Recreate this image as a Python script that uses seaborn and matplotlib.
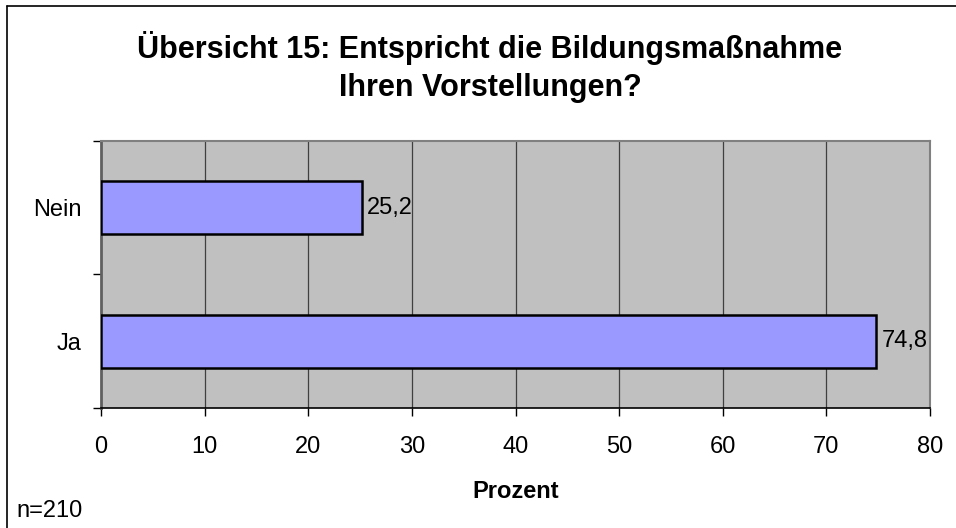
import matplotlib
matplotlib.use("Agg")
import matplotlib.pyplot as plt
import seaborn as sns
import pandas as pd
from matplotlib.lines import Line2D

categories = ["Nein", "Ja"]
values = [25.2, 74.8]
value_labels = ["25,2", "74,8"]
x_ticks = [0, 10, 20, 30, 40, 50, 60, 70, 80]

sns.set_style("white", rc={"text.color": "black", "axes.labelcolor": "black",
                           "xtick.color": "black", "ytick.color": "black",
                           "xtick.bottom": True, "ytick.left": True})
plt.rcParams['font.family'] = ['Liberation Sans', 'DejaVu Sans']

df = pd.DataFrame({"cat": categories, "val": values})

fig = plt.figure(figsize=(9.56, 5.28), dpi=100)
ax = fig.add_axes([101/956, 1-408/528, (930-101)/956, (408-141)/528])
ax.set_facecolor("#C0C0C0")

sns.barplot(data=df, x="val", y="cat", orient="h", order=categories,
            color="#9999FF", saturation=1, width=0.4,
            edgecolor="black", linewidth=1.8, ax=ax, zorder=3)

ax.set_xlim(0, 80)
ax.set_ylim(1.5, -0.5)
ax.set_xticks(x_ticks)
ax.set_xticklabels([str(t) for t in x_ticks], fontsize=17)
ax.set_yticks([0, 1])
ax.set_yticklabels(categories, fontsize=17)
ax.tick_params(axis="y", which="major", left=True, length=0, pad=14)
ax.tick_params(axis="x", which="major", bottom=True, length=6, width=1,
               color="black", direction="out", pad=14)
ax.set_yticks([-0.5, 0.5, 1.5], minor=True)
ax.tick_params(axis="y", which="minor", left=True, length=6, width=1,
               color="black", direction="out")

for x in x_ticks[1:-1]:
    ax.axvline(x, color="#404040", linewidth=0.9, zorder=1)

for sp in ["top", "right", "left"]:
    ax.spines[sp].set_color("#808080")
    ax.spines[sp].set_linewidth(1.5)
ax.spines["left"].set_color("#606060")
ax.spines["left"].set_linewidth(2)
ax.spines["bottom"].set_color("black")
ax.spines["bottom"].set_linewidth(1.2)

for i, (v, lab) in enumerate(zip(values, value_labels)):
    ax.text(v + 0.5, i, lab, va="center", ha="left", fontsize=17, zorder=4)

ax.set_xlabel("Prozent", fontsize=17, fontweight="bold", labelpad=16)
ax.set_ylabel("")

fig.text(490/956, 1-67/528, "Übersicht 15: Entspricht die Bildungsmaßnahme\nIhren Vorstellungen?",
         ha="center", va="center", fontsize=22, fontweight="bold", linespacing=1.35)
fig.text(16/956, 1-511/528, "n=210", ha="left", va="center", fontsize=17)

fig.add_artist(Line2D([7/956, 7/956], [0, 1-6/528], transform=fig.transFigure, color="black", linewidth=1.2))
fig.add_artist(Line2D([7/956, 1], [1-6/528, 1-6/528], transform=fig.transFigure, color="black", linewidth=1.2))

fig.savefig("out.png", dpi=100)
